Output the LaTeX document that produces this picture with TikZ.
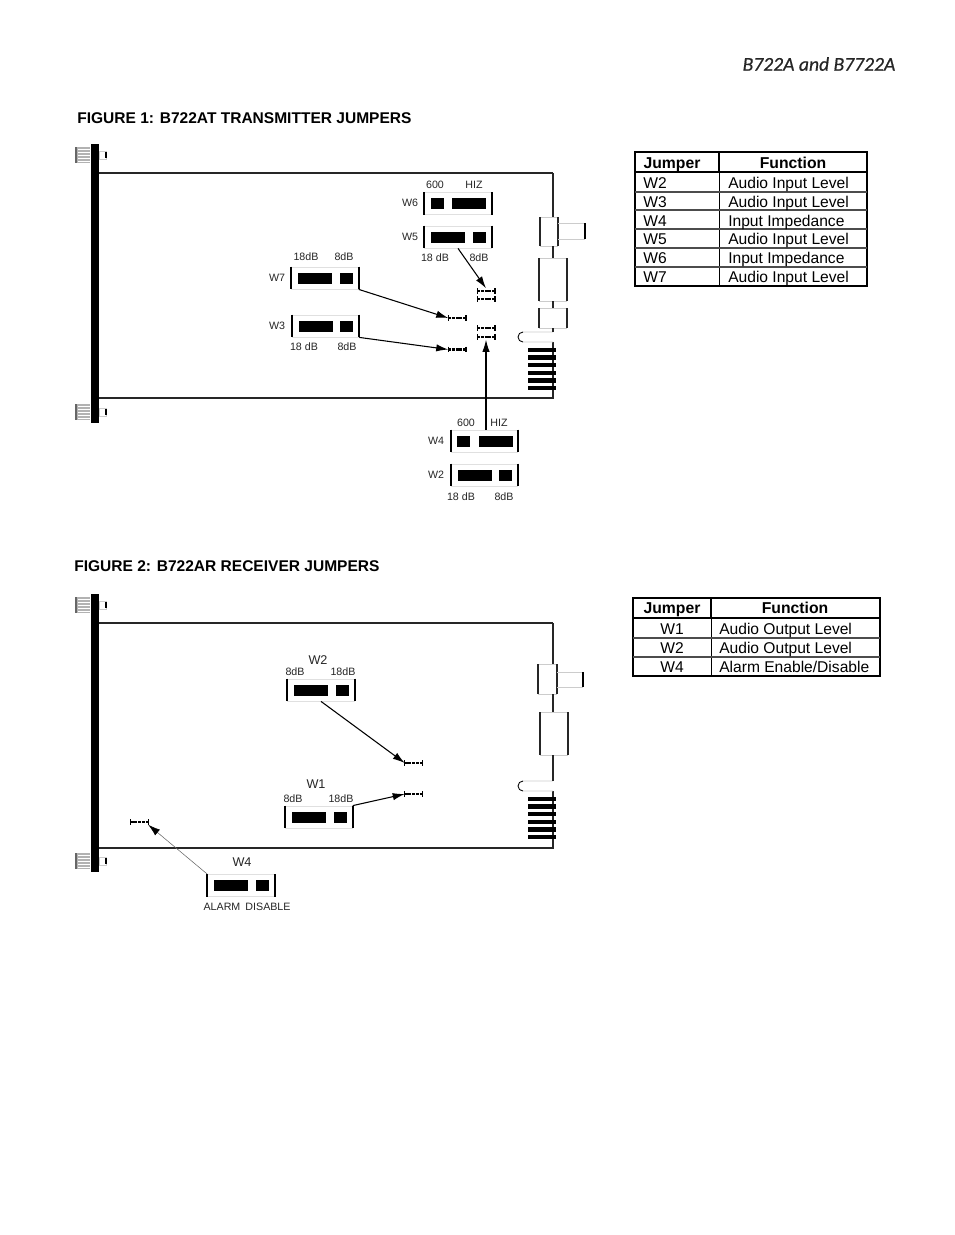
\documentclass[tikz,border=0pt]{standalone}
\usepackage{fontspec}
\setmainfont{Liberation Sans}
\newfontfamily\titlefont[ItalicFeatures={FakeBold=0.6}]{Carlito}
\usetikzlibrary{arrows.meta}

\begin{document}
\begin{tikzpicture}[>={Latex[length=9pt,width=5.5pt]},x=0.75pt,y=-0.75pt,
	label/.style={inner sep=0pt,text height=5.8pt,text depth=0pt,font=\fontsize{8}{8}\selectfont,color=black!85},
	biglabel/.style={inner sep=0pt,text height=6.8pt,text depth=0pt,font=\fontsize{9.5}{9.5}\selectfont,color=black!85},
	heading/.style={anchor=west,inner sep=0pt,font=\fontsize{11.65}{11.65}\selectfont\bfseries},
	tablehead/.style={inner sep=0pt,text height=8.4pt,text depth=0pt,font=\fontsize{11.8}{11.8}\selectfont\bfseries},
	tabletext/.style={inner sep=0pt,text height=8.4pt,text depth=0pt,font=\fontsize{11.7}{11.7}\selectfont},
	jumperbox/.style={draw=black!12,line width=0.6pt,minimum width=50pt,minimum height=16.5pt,inner sep=0pt},
	jumperblock/.style={fill=black,inner sep=0pt,minimum height=8.25pt},
	pinnode/.style={inner sep=0pt,minimum width=12.75pt,minimum height=3.75pt},
	thinline/.style={draw=black!20,line width=0.6pt},
	boardline/.style={line width=1.2pt,color=black!85},
	pointer/.style={->,line width=0.8pt}]

\def\bogenbreite{954}
\def\bogenhoehe{1235}

\useasboundingbox (0,0) rectangle ({\bogenbreite},{\bogenhoehe});
\fill[white] (0,0) rectangle ({\bogenbreite},{\bogenhoehe});

% jumper: name, x, y, shift long block, shift short block
\def\jumper#1#2#3#4#5{
	\node (#1) at (#2,#3) [jumperbox] {};
	\draw[line width=1.3pt] (#1.north west) -- (#1.south west);
	\draw[line width=1.3pt] (#1.north east) -- (#1.south east);
	\node (#1long) at ([xshift=#4pt]#1.center) [jumperblock,minimum width=25.5pt] {};
	\node (#1short) at ([xshift=#5pt]#1.center) [jumperblock,minimum width=9.75pt] {};
}
% header pins on the board
\def\pinrow#1#2#3{
	\node (#1) at (#2,#3) [pinnode] {};
	\draw[line width=1.7pt,dash pattern=on 2.2pt off 0.6pt] (#1.west) -- (#1.east);
	\draw[line width=1.1pt] (#1.north west) -- (#1.south west);
	\draw[line width=1.1pt] (#1.north east) -- (#1.south east);
}
% thumb screw and its stub on the panel
\def\screw#1{
	\fill[black!30] (76,{#1-8}) rectangle (90,{#1+8});
	\foreach \i in {-6,-3,...,6} {
		\draw[white,line width=0.4pt] (78,{#1+\i}) -- (90,{#1+\i});
	}
	\draw[black!60,line width=0.8pt] (76,{#1-8}) -- (76,{#1+8});
	\draw[thinline] (99,{#1-4}) rectangle (106,{#1+4});
	\draw[line width=0.8pt] (106,{#1-3}) -- (106,{#1+3});
}
% card outline: top, bottom, first connector y, second, notch, fingers
\def\cardedge#1#2#3#4#5{
	\draw[boardline] (99,#1) -- (553,#1);
	\draw[boardline] (99,#2) -- (553,#2) -- (553,{#5+10});
	\draw[boardline] (553,#1) -- (553,#3);
	\draw[thinline] (553,{#5+10}) -- (523,{#5+10})
		arc[start angle=90,end angle=270,radius=5] -- (553,#5);
	\draw[black,line width=0.6pt] (523,{#5+10})
		arc[start angle=90,end angle=270,radius=5];
	\foreach \i in {0,...,5} {
		\fill[black] (528,{#5+15.8+7.6*\i}) rectangle (556,{#5+20.2+7.6*\i});
	}
}

% header
\node (title) at (819,64) [inner sep=0pt,font=\titlefont\itshape\fontsize{14.7}{14.7}\selectfont,color=black!85] {B722A and B7722A};

%
% figure 1
%
\node (headone) at (77,118) [heading] {FIGURE 1: B722AT TRANSMITTER JUMPERS};

\fill[black] (91,144) rectangle (99,423);
\screw{155}
\screw{412}
\cardedge{173}{398}{217}{258}{332}

\draw[thinline] (540,217) -- (558,217) (540,246) -- (558,246);
\draw[boardline] (540,217) -- (540,246);
\draw[boardline] (558,217) -- (558,246);
\draw[thinline] (558,223) -- (585,223) (558,239) -- (585,239);
\draw[line width=1.3pt] (585,223) -- (585,239);
\draw[boardline] (553,246) -- (553,258);
\draw[thinline] (539,258) -- (567,258) (539,301) -- (567,301);
\draw[boardline] (539,258) -- (539,301);
\draw[boardline] (567,258) -- (567,301);
\draw[boardline] (553,301) -- (553,308);
\draw[thinline] (539,308) -- (567,308) (539,328) -- (567,328);
\draw[boardline] (539,308) -- (539,328);
\draw[boardline] (567,308) -- (567,328);
\draw[boardline] (553,328) -- (553,332);

\jumper{jsix}{458}{203.5}{8.25}{-15.4}
\jumper{jfive}{458}{237}{-7.5}{16}
\jumper{jseven}{325}{278}{-7.5}{16}
\jumper{jthree}{325.5}{326}{-7.5}{16}
\jumper{jfour}{484.5}{441}{8.25}{-15.4}
\jumper{jtwo}{484.5}{475}{-7.5}{16}

\pinrow{pinfivea}{486}{291}
\pinrow{pinfiveb}{486}{299}
\pinrow{pinfoura}{486}{328}
\pinrow{pinfourb}{486}{337}
\pinrow{pinseven}{457}{318}
\pinrow{pinthree}{457}{349.5}

\draw[pointer] (jfive.south) -- (pinfivea.north);
\draw[pointer] (jseven.south east) -- (pinseven.west);
\draw[pointer] (jthree.south east) -- (pinthree.west);
\draw[pointer] (jfour.north -| pinfourb.south) -- (pinfourb.south);

\node (lsixa) at (435,185) [label] {600};
\node (lsixb) at (474,185) [label] {HIZ};
\node (lsix) at (410,203) [label] {W6};
\node (lfive) at (410,237) [label] {W5};
\node (lfivea) at (435,258) [label] {18 dB};
\node (lfiveb) at (479,258) [label] {8dB};
\node (lseven) at (277,278) [label] {W7};
\node (lsevena) at (306,257) [label] {18dB};
\node (lsevenb) at (344,257) [label] {8dB};
\node (lthree) at (277,326) [label] {W3};
\node (lthreea) at (304,347) [label] {18 dB};
\node (lthreeb) at (347,347) [label] {8dB};
\node (lfour) at (436,441) [label] {W4};
\node (lfoura) at (466,423) [label] {600};
\node (lfourb) at (499,423) [label] {HIZ};
\node (ltwo) at (436,475) [label] {W2};
\node (ltwoa) at (461,497) [label] {18 dB};
\node (ltwob) at (504,497) [label] {8dB};

% jumper table of figure 1
\draw[line width=1.4pt] (635,152) rectangle (867,286);
\draw[line width=1.4pt] (635,172) -- (867,172);
\draw[line width=1.2pt] (719,152) -- (719,172);
\draw[line width=0.7pt] (719,172) -- (719,286);
\foreach \y in {192,210,229,248,267} {
	\draw[line width=0.9pt,color=black!70] (635,\y) -- (867,\y);
}
\node (onejumper) at (672,162.5) [tablehead] {Jumper};
\node (onefunction) at (793,162.5) [tablehead] {Function};
\foreach \n/\y/\f in {2/183/Audio Input Level,3/201.5/Audio Input Level,
	4/220.5/Input Impedance,5/239/Audio Input Level,
	6/258/Input Impedance,7/277/Audio Input Level} {
	\node (onename\n) at (643,\y) [tabletext,anchor=west] {W\n};
	\node (onetext\n) at (728,\y) [tabletext,anchor=west] {\f};
}

%
% figure 2
%
\node (headtwo) at (74,566) [heading] {FIGURE 2: B722AR RECEIVER JUMPERS};

\fill[black] (91,594) rectangle (99,872);
\screw{605}
\screw{861}
\cardedge{623}{848}{664}{712}{781}

\draw[thinline] (538,664) -- (557,664) (538,694) -- (557,694);
\draw[boardline] (538,664) -- (538,694);
\draw[boardline] (557,664) -- (557,694);
\draw[thinline] (557,672) -- (583,672) (557,687) -- (583,687);
\draw[line width=1.3pt] (583,672) -- (583,687);
\draw[boardline] (553,694) -- (553,712);
\draw[thinline] (540,712) -- (568,712) (540,755) -- (568,755);
\draw[boardline] (540,712) -- (540,755);
\draw[boardline] (568,712) -- (568,755);
\draw[boardline] (553,755) -- (553,781);

\jumper{rtwo}{321}{690}{-7.5}{16}
\jumper{rone}{319}{817}{-7.5}{16}
\jumper{rfour}{241}{885.5}{-7.5}{16}

\pinrow{pintwo}{413.5}{763}
\pinrow{pinone}{413.5}{794}
\pinrow{pinalarm}{139.5}{822}

\draw[pointer] (rtwo.south) -- (pintwo.west);
\draw[pointer] (rone.north east) -- (pinone.west);
\draw[->,line width=0.4pt,color=black!60,>={Latex[black,length=9pt,width=5.5pt]}] (rfour.north west) -- (pinalarm.south east);

\node (rltwo) at (318,660) [biglabel] {W2};
\node (rltwoa) at (295,672) [label] {8dB};
\node (rltwob) at (343,672) [label] {18dB};
\node (rlone) at (316,784) [biglabel] {W1};
\node (rlonea) at (293,799) [label] {8dB};
\node (rloneb) at (341,799) [label] {18dB};
\node (rlfour) at (242,862) [biglabel] {W4};
\node (rlfoura) at (222,907) [label] {ALARM};
\node (rlfourb) at (268,907) [label] {DISABLE};

% jumper table of figure 2
\draw[line width=1.4pt] (633,598) rectangle (880,676);
\draw[line width=1.4pt] (633,618) -- (880,618);
\draw[line width=1.2pt] (711,598) -- (711,618);
\draw[line width=0.7pt] (711,618) -- (711,676);
\foreach \y in {638,657} {
	\draw[line width=0.9pt,color=black!70] (633,\y) -- (880,\y);
}
\node (twojumper) at (672,608) [tablehead] {Jumper};
\node (twofunction) at (795,608) [tablehead] {Function};
\foreach \n/\y/\f in {1/629/Audio Output Level,2/648/Audio Output Level,4/666.5/{Alarm Enable/Disable}} {
	\node (twoname\n) at (672,\y) [tabletext] {W\n};
	\node (twotext\n) at (719,\y) [tabletext,anchor=west] {\f};
}

\end{tikzpicture}
\end{document}
